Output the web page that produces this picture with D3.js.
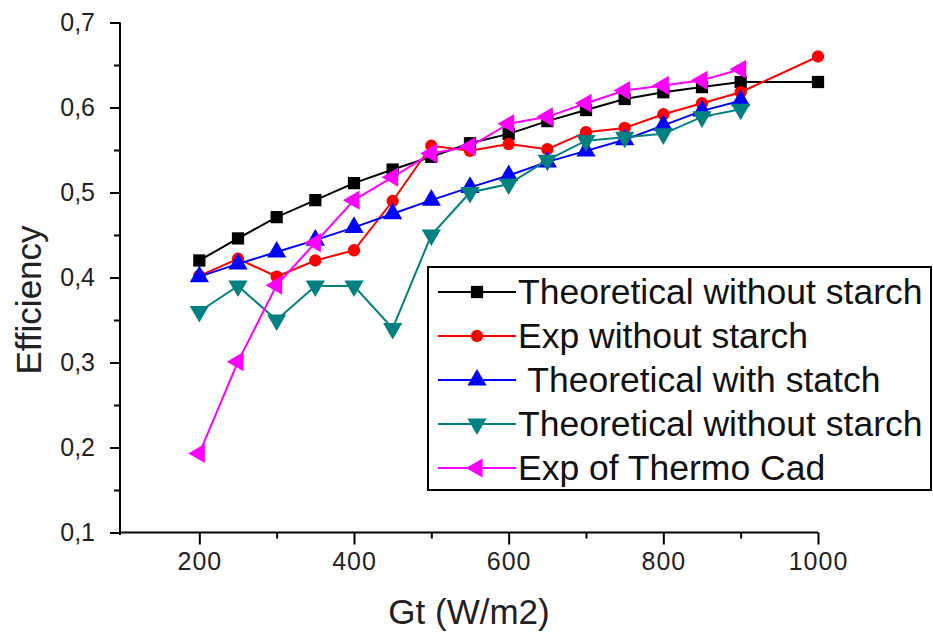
<!DOCTYPE html>
<html>
<head>
<meta charset="utf-8">
<script src="https://cdn.jsdelivr.net/npm/d3@7"></script>
<style>
  body { margin: 0; background: white; }
  text { font-family: "Liberation Sans", Arial, sans-serif; }
</style>
</head>
<body>
<div class="chart"></div>
<script>

var gtShort = [200, 250, 300, 350, 400, 450, 500, 550, 600, 650, 700, 750, 800, 850, 900];
var gtLong = [200, 250, 300, 350, 400, 450, 500, 550, 600, 650, 700, 750, 800, 850, 900, 1000];

var theoNoStarch = [0.42, 0.446, 0.471, 0.491, 0.511, 0.527, 0.542, 0.558, 0.569, 0.584, 0.597, 0.61, 0.618, 0.624, 0.63, 0.63];
var expNoStarch = [0.402, 0.422, 0.401, 0.42, 0.432, 0.49, 0.555, 0.549, 0.557, 0.551, 0.571, 0.576, 0.592, 0.605, 0.618, 0.66];
var theoStatch = [0.401, 0.416, 0.43, 0.444, 0.459, 0.475, 0.491, 0.506, 0.52, 0.536, 0.549, 0.562, 0.579, 0.596, 0.608];
var theoNoStarch2 = [0.36, 0.39, 0.35, 0.39, 0.39, 0.34, 0.45, 0.50, 0.51, 0.538, 0.561, 0.565, 0.569, 0.589, 0.598];
var expThermoCad = [0.193, 0.301, 0.391, 0.441, 0.491, 0.518, 0.546, 0.554, 0.581, 0.589, 0.605, 0.62, 0.626, 0.632, 0.645];

var seriesNames = ['Theoretical without starch', 'Exp without starch', ' Theoretical with statch', 'Theoretical without starch', 'Exp of Thermo Cad'];
var yTicks = [0.1, 0.2, 0.3, 0.4, 0.5, 0.6, 0.7];
var xTicks = [200, 400, 600, 800, 1000];

var width = 933,
    height = 636;

var series = [
  { name: seriesNames[0], xs: gtLong, ys: theoNoStarch, color: '#000000', symbol: d3.symbolSquare, size: 150, rot: 0 },
  { name: seriesNames[1], xs: gtLong, ys: expNoStarch, color: '#ff0000', symbol: d3.symbolCircle, size: 120, rot: 0 },
  { name: seriesNames[2], xs: gtShort, ys: theoStatch, color: '#0000ff', symbol: d3.symbolTriangle, size: 160, rot: 0 },
  { name: seriesNames[3], xs: gtShort, ys: theoNoStarch2, color: '#008080', symbol: d3.symbolTriangle, size: 160, rot: 180 },
  { name: seriesNames[4], xs: gtShort, ys: expThermoCad, color: '#ff00ff', symbol: d3.symbolTriangle, size: 160, rot: -90 }
];

var x = d3.scaleLinear().domain([100, 1000]).range([122, 818]);
var y = d3.scaleLinear().domain([0.1, 0.7]).range([532.5, 22.5]);

var svg = d3.select('.chart').append('svg')
    .attr('width', width)
    .attr('height', height)
    .style('background', 'white');

// minor ticks first
svg.append('g')
    .attr('transform', 'translate(0,532.5)')
    .call(d3.axisBottom(x).tickValues([300, 500, 700, 900]).tickSize(6).tickFormat(''))
    .call(g => g.select('.domain').remove())
    .selectAll('line').attr('stroke-width', 2);

svg.append('g')
    .attr('transform', 'translate(120,0)')
    .call(d3.axisLeft(y).tickValues([0.15, 0.25, 0.35, 0.45, 0.55, 0.65]).tickSize(6).tickFormat(''))
    .call(g => g.select('.domain').remove())
    .selectAll('line').attr('stroke-width', 2);

// x axis
var xAxis = svg.append('g')
    .attr('transform', 'translate(0,532.5)')
    .call(d3.axisBottom(x).tickValues(xTicks).tickSize(12).tickSizeOuter(0).tickPadding(8)
      .tickFormat(d3.format('d')));
xAxis.select('.domain').attr('stroke-width', 2).attr('d', 'M119,0H818');
xAxis.selectAll('line').attr('stroke-width', 2);
xAxis.selectAll('text').attr('font-size', 25).attr('fill', '#222').style('letter-spacing', '1px');

// y axis
var yAxis = svg.append('g')
    .attr('transform', 'translate(120,0)')
    .call(d3.axisLeft(y).tickValues(yTicks).tickSize(10).tickSizeOuter(0).tickPadding(15)
      .tickFormat(function(d) { return d3.format('.1f')(d).replace('.', ','); }));
yAxis.select('.domain').attr('stroke-width', 2).attr('d', 'M0,22.5V535');
yAxis.selectAll('line').attr('stroke-width', 2);
yAxis.selectAll('text').attr('font-size', 25).attr('fill', '#222');

// axis titles
svg.append('text')
    .text('Gt (W/m2)')
    .attr('x', 469)
    .attr('y', 624)
    .attr('text-anchor', 'middle')
    .attr('font-size', 35)
    .attr('fill', '#222');

svg.append('text')
    .text('Efficiency')
    .attr('transform', 'translate(41,300) rotate(-90)')
    .attr('text-anchor', 'middle')
    .attr('font-size', 35)
    .attr('fill', '#222');

var line = d3.line()
    .x(function(d) { return x(d[0]); })
    .y(function(d) { return y(d[1]); });

series.forEach(function(s) {
  var pts = s.ys.map(function(v, i) { return [s.xs[i], v]; });
  var g = svg.append('g');
  g.append('path')
      .datum(pts)
      .attr('d', line)
      .attr('fill', 'none')
      .attr('stroke', s.color)
      .attr('stroke-width', 2);
  g.selectAll('path.pt').data(pts)
    .enter().append('path')
      .attr('class', 'pt')
      .attr('d', d3.symbol().type(s.symbol).size(s.size))
      .attr('transform', function(d) {
        return 'translate(' + x(d[0]) + ',' + y(d[1]) + ') rotate(' + s.rot + ')';
      })
      .attr('fill', s.color);
});

// legend
var legend = svg.append('g');
legend.append('rect')
    .attr('x', 428)
    .attr('y', 267)
    .attr('width', 503)
    .attr('height', 223)
    .attr('fill', 'white')
    .attr('stroke', 'black')
    .attr('stroke-width', 2);

series.forEach(function(s, i) {
  var cy = 292 + i * 44;
  legend.append('line')
      .attr('x1', 438).attr('x2', 516)
      .attr('y1', cy).attr('y2', cy)
      .attr('stroke', s.color)
      .attr('stroke-width', 2);
  legend.append('path')
      .attr('d', d3.symbol().type(s.symbol).size(s.size))
      .attr('transform', 'translate(477,' + cy + ') rotate(' + s.rot + ')')
      .attr('fill', s.color);
  legend.append('text')
      .text(s.name)
      .attr('x', 518)
      .attr('y', cy + 12)
      .attr('font-size', 35.5)
      .attr('fill', '#111')
      .style('white-space', 'pre');
});

</script>
</body>
</html>
